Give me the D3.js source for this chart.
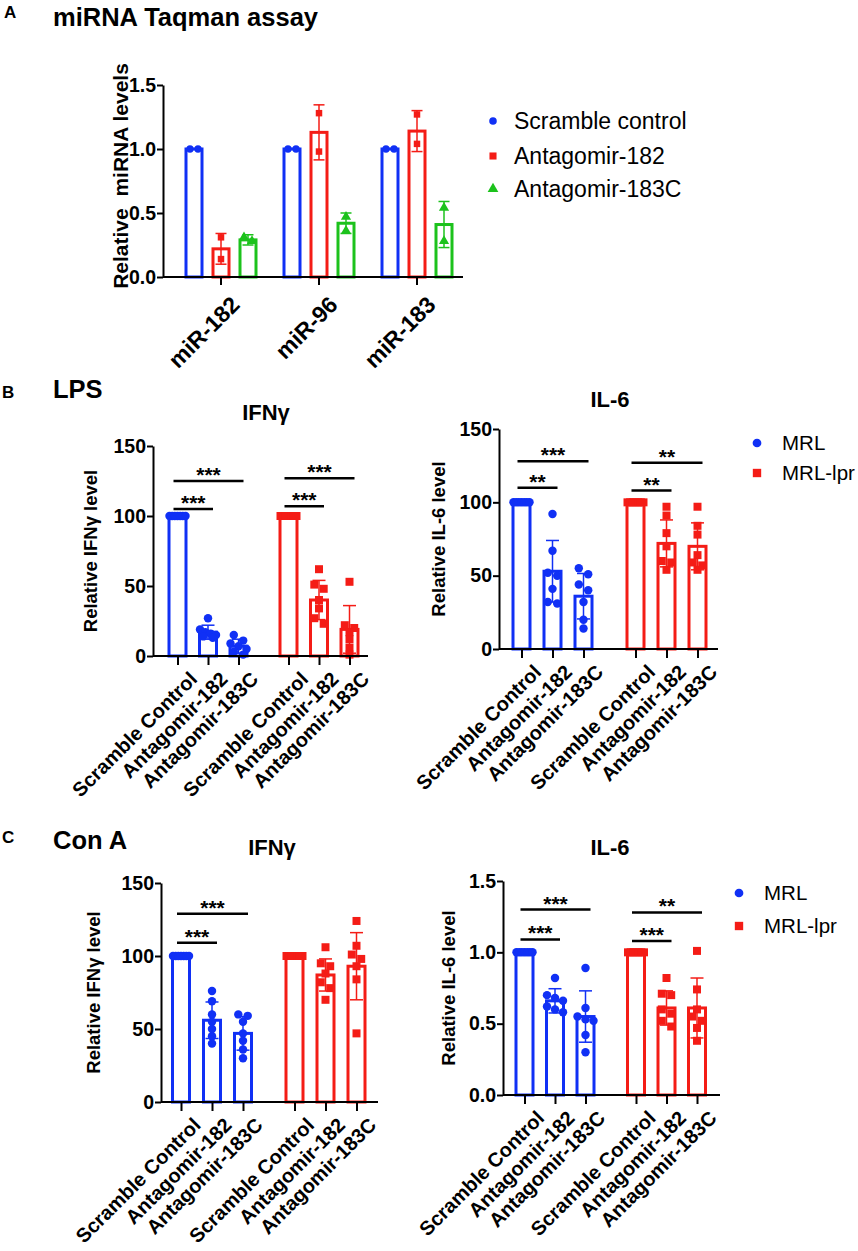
<!DOCTYPE html>
<html>
<head>
<meta charset="utf-8">
<script src="https://cdn.jsdelivr.net/npm/d3@7"></script>
<style>
  body { margin: 0; background: #fff; }
  text { font-family: "Liberation Sans", Arial, Helvetica, sans-serif; }
</style>
</head>
<body>
<svg id="fig" width="858" height="1251"></svg>
<script>
// ---------- Panel A: miRNA Taqman assay ----------
const miRNAs = ["miR-182", "miR-96", "miR-183"];
const aSeries = ["Scramble control", "Antagomir-182", "Antagomir-183C"];
// means / SD per series, per miRNA
const aMeans = [[1.0, 1.0, 1.0], [0.22, 1.13, 1.14], [0.29, 0.42, 0.41]];
const aSD = [[0, 0, 0], [0.12, 0.215, 0.16], [0.04, 0.08, 0.18]];
const aPoints = [
  [[1.0, 1.0], [1.0, 1.0], [1.0, 1.0]],
  [[0.31, 0.14], [1.28, 0.98], [1.27, 1.04]],
  [[0.31, 0.28], [0.47, 0.36], [0.54, 0.28]]
];
const aTicks = [0, 0.5, 1.0, 1.5];

// ---------- Panels B / C ----------
const strains = ["MRL", "MRL-lpr"];
const treatments = ["Scramble Control", "Antagomir-182", "Antagomir-183C"];

// B, LPS, IFNγ  [strain][treatment]
const lpsIfnPoints = [
  [[100, 100, 100, 100, 100, 100, 100], [27, 19, 17, 16, 15, 14, 13], [15, 11, 9, 7, 5, 3, 1]],
  [[100, 100, 100, 100, 100, 100, 100], [62, 51, 48, 40, 34, 27, 23], [53, 22, 20, 17, 12, 6, 1]]
];
const lpsIfnMeans = [[100, 17, 7], [100, 40, 19]];
const lpsIfnSD = [[0, 5, 5], [0, 14, 17]];
// [strain, from, to, height, stars]
const lpsIfnSig = [[0, 0, 1, 105, "***"], [0, 0, 2, 125, "***"], [1, 0, 1, 107, "***"], [1, 0, 2, 127, "***"]];

// B, LPS, IL-6
const lpsIl6Points = [
  [[100, 100, 100, 100, 100, 100, 100], [92, 67, 52, 50, 41, 32, 31], [55, 51, 44, 40, 32, 20, 14]],
  [[100, 100, 100, 100, 100, 100, 100], [97, 91, 79, 70, 60, 59, 54], [97, 84, 78, 64, 59, 57, 54]]
];
const lpsIl6Means = [[100, 53, 36], [100, 72, 70]];
const lpsIl6SD = [[0, 21, 15.5], [0, 16, 16]];
const lpsIl6Sig = [[0, 0, 1, 110, "**"], [0, 0, 2, 128, "***"], [1, 0, 1, 108, "**"], [1, 0, 2, 127, "**"]];

// C, Con A, IFNγ
const conIfnPoints = [
  [[100, 100, 100, 100, 100, 100, 100], [76, 69, 60, 55, 50, 45, 40], [60, 59, 55, 47, 42, 36, 30]],
  [[100, 100, 100, 100, 100, 100, 100], [106, 95, 93, 88, 82, 78, 70], [124, 107, 101, 98, 93, 84, 47]]
];
const conIfnMeans = [[100, 56, 47], [100, 87, 93]];
const conIfnSD = [[0, 12.5, 11.5], [0, 11, 23]];
const conIfnSig = [[0, 0, 1, 109, "***"], [0, 0, 2, 129, "***"]];

// C, Con A, IL-6
const conIl6Points = [
  [[1, 1, 1, 1, 1, 1, 1], [0.82, 0.70, 0.68, 0.66, 0.62, 0.60, 0.58], [0.89, 0.61, 0.55, 0.53, 0.52, 0.42, 0.30]],
  [[1, 1, 1, 1, 1, 1, 1], [0.82, 0.71, 0.70, 0.60, 0.57, 0.52, 0.48], [1.01, 0.74, 0.60, 0.55, 0.52, 0.47, 0.38]]
];
const conIl6Means = [[1, 0.66, 0.55], [1, 0.61, 0.61]];
const conIl6SD = [[0, 0.085, 0.18], [0, 0.12, 0.21]];
const conIl6Sig = [[0, 0, 1, 1.09, "***"], [0, 0, 2, 1.30, "***"], [1, 0, 1, 1.08, "***"], [1, 0, 2, 1.28, "**"]];

const ticks150 = [0, 50, 100, 150];

// ---------- styles ----------
const BLUE = "#1030f5", RED = "#f41c16", GREEN = "#1cc21c";
const aColors = [BLUE, RED, GREEN];
const aShapes = [d3.symbolCircle, d3.symbolSquare, d3.symbolTriangle];
const strainColors = [BLUE, RED];
const strainShapes = [d3.symbolCircle, d3.symbolSquare];

const svg = d3.select("#fig");
svg.append("rect").attr("width", 858).attr("height", 1251).attr("fill", "#fff");

function txt(s, x, y, size, weight, anchor) {
  return svg.append("text")
    .attr("x", x).attr("y", y)
    .attr("font-size", size)
    .attr("font-weight", weight || "bold")
    .attr("text-anchor", anchor || "start")
    .text(s);
}

// spread points that sit at about the same height, centred on the bar
function spread(vals, y, r, maxSpan) {
  const order = vals.map((v, i) => i).sort((a, b) => vals[b] - vals[a]);
  const offs = new Array(vals.length).fill(0);
  let row = [];
  const flush = () => {
    if (!row.length) return;
    const n = row.length;
    const step = n > 1 ? Math.min(2 * r + 1, maxSpan / (n - 1)) : 0;
    row.forEach((idx, k) => { offs[idx] = (k - (n - 1) / 2) * step; });
    row = [];
  };
  order.forEach(i => {
    if (row.length && Math.abs(y(vals[i]) - y(vals[row[0]])) > 1.6 * r) flush();
    row.push(i);
  });
  flush();
  return offs;
}

function errBar(g, cx, y, mean, sd, color, cap) {
  if (!sd) return;
  const e = g.append("g").attr("stroke", color).attr("stroke-width", 1.5);
  e.append("line").attr("x1", cx).attr("x2", cx).attr("y1", y(mean - sd)).attr("y2", y(mean + sd));
  e.append("line").attr("x1", cx - cap / 2).attr("x2", cx + cap / 2).attr("y1", y(mean + sd)).attr("y2", y(mean + sd));
  e.append("line").attr("x1", cx - cap / 2).attr("x2", cx + cap / 2).attr("y1", y(mean - sd)).attr("y2", y(mean - sd));
}

function styleAxis(g, size) {
  g.selectAll("path, line").attr("stroke", "#000").attr("stroke-width", 2);
  g.selectAll("text").attr("font-size", size).attr("font-weight", "bold").attr("fill", "#000")
    .attr("font-family", '"Liberation Sans", Arial, sans-serif');
}

// ================= Panel A =================
txt("A", 4, 18, 17);
txt("miRNA Taqman assay", 53, 26, 25.5);

const aX = d3.scaleBand().domain(miRNAs).range([172, 466]);
const aSub = d3.scaleBand().domain(aSeries).range([-40.5, 40.5]);
const aY = d3.scaleLinear().domain([0, 1.5]).range([277, 85]);
const aBW = 16;
const gA = svg.append("g");

aSeries.forEach((s, i) => {
  miRNAs.forEach((m, j) => {
    const cx = aX(m) + aX.bandwidth() / 2 + aSub(s) + aSub.bandwidth() / 2;
    gA.append("rect")
      .attr("x", cx - aBW / 2).attr("y", aY(aMeans[i][j]))
      .attr("width", aBW).attr("height", aY(0) - aY(aMeans[i][j]))
      .attr("fill", "#fff").attr("stroke", aColors[i]).attr("stroke-width", 3);
    errBar(gA, cx, aY, aMeans[i][j], aSD[i][j], aColors[i], 11);
    const pts = aPoints[i][j];
    const offs = spread(pts, aY, 3.5, 9);
    pts.forEach((v, k) => {
      gA.append("path")
        .attr("d", d3.symbol().type(aShapes[i]).size(i === 2 ? 45 : 42)())
        .attr("transform", `translate(${cx + offs[k]},${aY(v)})`)
        .attr("fill", aColors[i]);
    });
  });
});

const aYAxis = svg.append("g").attr("transform", "translate(163,0)")
  .call(d3.axisLeft(aY).tickValues(aTicks).tickFormat(d3.format(".1f")).tickSize(6).tickSizeOuter(0).tickPadding(1));
styleAxis(aYAxis, 19.5);

const aXAxis = svg.append("g").attr("transform", "translate(0,277)")
  .call(d3.axisBottom(aX).tickSize(8).tickSizeOuter(0));
aXAxis.select(".domain").remove();
aXAxis.append("line").attr("x1", 163).attr("x2", 463).attr("y1", 0).attr("y2", 0);
styleAxis(aXAxis, 23);
aXAxis.selectAll(".tick text")
  .attr("text-anchor", "end")
  .attr("transform", "translate(1,10) rotate(-45)")
  .attr("dy", "0.7em");

svg.append("text")
  .attr("transform", "translate(128,176) rotate(-90)")
  .attr("text-anchor", "middle")
  .attr("font-size", 21).attr("font-weight", "bold")
  .attr("xml:space", "preserve")
  .text("Relative  miRNA levels");

// legend A
aSeries.forEach((s, i) => {
  const ly = [121, 156, 189][i];
  svg.append("path")
    .attr("d", d3.symbol().type(aShapes[i]).size(i === 0 ? 45 : 50)())
    .attr("transform", `translate(493,${ly})`)
    .attr("fill", aColors[i]);
  txt(s, 514, ly + 8, 23, "normal");
});

// ================= Panels B / C =================
function groupedPanel(o) {
  const g = svg.append("g");
  const y = d3.scaleLinear().domain([0, o.max]).range([o.y0, o.yTop]);
  const xs = d3.scaleBand().domain(strains).range(o.strainRange);
  const xt = d3.scaleBand().domain(treatments).range([-1.5 * o.step, 1.5 * o.step]);
  const cxOf = (si, ti) => xs(strains[si]) + xs.bandwidth() / 2 + xt(treatments[ti]) + xt.bandwidth() / 2;
  const bw = 17;

  strains.forEach((s, si) => {
    treatments.forEach((t, ti) => {
      const cx = cxOf(si, ti);
      const mean = o.means[si][ti];
      g.append("rect")
        .attr("x", cx - bw / 2).attr("y", y(mean))
        .attr("width", bw).attr("height", y(0) - y(mean))
        .attr("fill", "#fff").attr("stroke", strainColors[si]).attr("stroke-width", 3);
      errBar(g, cx, y, mean, o.sd[si][ti], strainColors[si], 13);
      const pts = o.points[si][ti];
      const offs = spread(pts, y, 4.2, 16);
      pts.forEach((v, k) => {
        g.append("path")
          .attr("d", d3.symbol().type(strainShapes[si]).size(si === 0 ? 56 : 64)())
          .attr("transform", `translate(${cx + offs[k]},${y(v)})`)
          .attr("fill", strainColors[si]);
      });
    });
  });

  // significance brackets
  o.sig.forEach(([si, a, b, h, stars]) => {
    const x1 = cxOf(si, a) - 4, x2 = cxOf(si, b) + 5;
    g.append("line").attr("x1", x1).attr("x2", x2).attr("y1", y(h)).attr("y2", y(h))
      .attr("stroke", "#000").attr("stroke-width", 2.5);
    g.append("text").attr("x", (x1 + x2) / 2).attr("y", y(h) + 1)
      .attr("text-anchor", "middle").attr("font-size", 21).attr("font-weight", "bold")
      .text(stars);
  });

  // axes
  const yAxis = svg.append("g").attr("transform", `translate(${o.axisX},0)`)
    .call(d3.axisLeft(y).tickValues(o.ticks).tickFormat(o.fmt).tickSize(6).tickSizeOuter(0).tickPadding(1));
  styleAxis(yAxis, 19.5);

  const keys = [], pos = [];
  strains.forEach((s, si) => treatments.forEach((t, ti) => { keys.push(s + "|" + t); pos.push(cxOf(si, ti)); }));
  const xOrd = d3.scaleOrdinal().domain(keys).range(pos);
  const xAxis = svg.append("g").attr("transform", `translate(0,${o.y0})`)
    .call(d3.axisBottom(xOrd).tickSize(9).tickFormat(k => k.split("|")[1]));
  xAxis.select(".domain").remove();
  xAxis.append("line").attr("x1", o.axisX).attr("x2", o.xEnd).attr("y1", 0).attr("y2", 0);
  styleAxis(xAxis, 20);
  xAxis.selectAll(".tick text")
    .attr("text-anchor", "end")
    .attr("transform", "translate(2,6) rotate(-45)")
    .attr("dy", "0.7em");

  // titles
  txt(o.title, o.titleX, o.titleY, 22, "bold", "middle");
  svg.append("text")
    .attr("transform", `translate(${o.labX},${(o.y0 + o.yTop) / 2}) rotate(-90)`)
    .attr("text-anchor", "middle")
    .attr("font-size", 18.5).attr("font-weight", "bold")
    .text(o.ylabel);
}

function strainLegend(x, y1, y2) {
  strains.forEach((s, si) => {
    const ly = si === 0 ? y1 : y2;
    svg.append("path")
      .attr("d", d3.symbol().type(strainShapes[si]).size(si === 0 ? 60 : 70)())
      .attr("transform", `translate(${x},${ly})`)
      .attr("fill", strainColors[si]);
    txt(s, x + 25, ly + 7, 20.5, "normal");
  });
}

const fmtInt = d3.format("d"), fmt1 = d3.format(".1f");

txt("B", 2, 398, 17);
txt("LPS", 53, 398, 25.5);

groupedPanel({
  y0: 656, yTop: 446, max: 150, ticks: ticks150, fmt: fmtInt,
  axisX: 153, xEnd: 368, strainRange: [152.5, 374.5], step: 30.5,
  points: lpsIfnPoints, means: lpsIfnMeans, sd: lpsIfnSD, sig: lpsIfnSig,
  title: "IFNγ", titleX: 266, titleY: 420, ylabel: "Relative IFNγ level", labX: 97
});
groupedPanel({
  y0: 649, yTop: 429, max: 150, ticks: ticks150, fmt: fmtInt,
  axisX: 499, xEnd: 718, strainRange: [495.5, 723.5], step: 31,
  points: lpsIl6Points, means: lpsIl6Means, sd: lpsIl6SD, sig: lpsIl6Sig,
  title: "IL-6", titleX: 610, titleY: 407, ylabel: "Relative IL-6 level", labX: 445
});
strainLegend(757, 443, 473);

txt("C", 2, 843, 17);
txt("Con A", 53, 849, 25.5);

groupedPanel({
  y0: 1102, yTop: 883, max: 150, ticks: ticks150, fmt: fmtInt,
  axisX: 161, xEnd: 378, strainRange: [155.25, 382.25], step: 31,
  points: conIfnPoints, means: conIfnMeans, sd: conIfnSD, sig: conIfnSig,
  title: "IFNγ", titleX: 272, titleY: 855, ylabel: "Relative IFNγ level", labX: 100
});
groupedPanel({
  y0: 1095, yTop: 881, max: 1.5, ticks: aTicks, fmt: fmt1,
  axisX: 503, xEnd: 720, strainRange: [499.25, 722.25], step: 30.5,
  points: conIl6Points, means: conIl6Means, sd: conIl6SD, sig: conIl6Sig,
  title: "IL-6", titleX: 610, titleY: 855, ylabel: "Relative IL-6 level", labX: 455
});
strainLegend(739, 893, 926);
</script>
</body>
</html>
